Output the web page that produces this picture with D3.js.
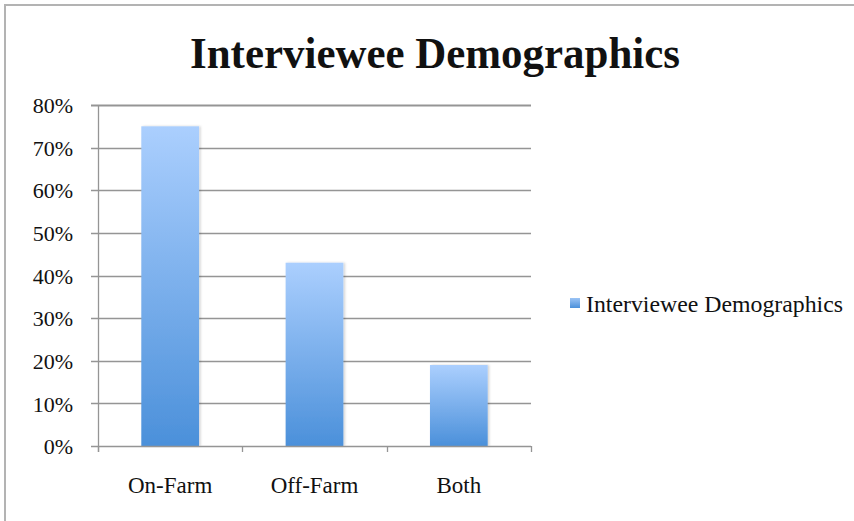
<!DOCTYPE html>
<html>
<head>
<meta charset="utf-8">
<script src="https://cdnjs.cloudflare.com/ajax/libs/d3/7.8.5/d3.min.js"></script>
<style>
  html, body { margin: 0; padding: 0; background: #fff; }
  svg { display: block; }
  text { font-family: "Liberation Serif", "Times New Roman", serif; fill: #111; }
</style>
</head>
<body>
<svg id="chart" width="854" height="521"></svg>
<script>
const categories = ["On-Farm", "Off-Farm", "Both"];
const values = [0.75, 0.43, 0.19];
const tickValues = [0, 0.1, 0.2, 0.3, 0.4, 0.5, 0.6, 0.7, 0.8];
const seriesName = "Interviewee Demographics";
const title = "Interviewee Demographics";

const svg = d3.select("#chart");

// frame
svg.append("path")
  .attr("d", "M5,521 V5 H854")
  .attr("fill", "none")
  .attr("stroke", "#b3b3b3")
  .attr("stroke-width", 2);

const plotL = 98, plotR = 531, plotT = 105, plotB = 446;

const x = d3.scaleBand().domain(categories).range([plotL, plotR])
  .paddingInner(0.6).paddingOuter(0.3);
const y = d3.scaleLinear().domain([0, 0.8]).range([plotB, plotT]);

const defs = svg.append("defs");
const grad = defs.append("linearGradient").attr("id", "barGrad")
  .attr("x1", 0).attr("y1", 0).attr("x2", 0).attr("y2", 1);
grad.append("stop").attr("offset", "0%").attr("stop-color", "#abcffe");
grad.append("stop").attr("offset", "100%").attr("stop-color", "#4b90da");

const shadow = defs.append("filter").attr("id", "shadow")
  .attr("x", "-20%").attr("y", "-5%").attr("width", "140%").attr("height", "110%");
shadow.append("feDropShadow").attr("dx", 1.5).attr("dy", 0).attr("stdDeviation", 1.2)
  .attr("flood-color", "#000").attr("flood-opacity", 0.18);

const legGrad = defs.append("linearGradient").attr("id", "legGrad")
  .attr("x1", 0).attr("y1", 0).attr("x2", 0).attr("y2", 1);
legGrad.append("stop").attr("offset", "0%").attr("stop-color", "#9cc4f5");
legGrad.append("stop").attr("offset", "100%").attr("stop-color", "#4b90da");

// gridlines
svg.append("g").selectAll("line")
  .data(tickValues.filter(d => d > 0))
  .join("line")
  .attr("x1", plotL - 7).attr("x2", plotR)
  .attr("y1", d => Math.round(y(d)) + 0.5).attr("y2", d => Math.round(y(d)) + 0.5)
  .attr("stroke", "#959595")
  .attr("stroke-width", d => d === 0.8 ? 2 : 1.3);

// y axis labels
const yAxis = d3.axisLeft(y).tickValues(tickValues).tickFormat(d3.format(".0%"))
  .tickSize(0).tickPadding(0);
const yg = svg.append("g").attr("transform", `translate(${plotL - 25},0)`).call(yAxis);
yg.select(".domain").remove();
yg.attr("font-family", null);
yg.selectAll("text")
  .style("font-family", "'Liberation Serif', 'Times New Roman', serif")
  .attr("font-size", 22).attr("fill", "#111").attr("dy", "0.35em");

// y axis line
svg.append("line")
  .attr("x1", plotL + 0.5).attr("x2", plotL + 0.5)
  .attr("y1", plotT).attr("y2", plotB + 6)
  .attr("stroke", "#959595").attr("stroke-width", 1.3);

// bars
svg.append("g").selectAll("rect")
  .data(values)
  .join("rect")
  .attr("x", (d, i) => x(categories[i]))
  .attr("width", x.bandwidth())
  .attr("y", d => y(d))
  .attr("height", d => y(0) - y(d))
  .attr("fill", "url(#barGrad)")
  .attr("filter", "url(#shadow)");

// x axis
svg.append("line")
  .attr("x1", plotL - 7).attr("x2", plotR)
  .attr("y1", plotB + 0.5).attr("y2", plotB + 0.5)
  .attr("stroke", "#959595").attr("stroke-width", 1.3);
const boundaries = categories.map(c => x(c) - x.step() * x.paddingInner() / 2);
boundaries.push(plotR);
svg.append("g").selectAll("line")
  .data(boundaries)
  .join("line")
  .attr("x1", d => Math.round(d) + 0.5).attr("x2", d => Math.round(d) + 0.5)
  .attr("y1", plotB).attr("y2", plotB + 6)
  .attr("stroke", "#959595").attr("stroke-width", 1.3);

svg.append("g").selectAll("text")
  .data(categories)
  .join("text")
  .attr("x", d => x(d) + x.bandwidth() / 2)
  .attr("y", 493)
  .attr("text-anchor", "middle")
  .attr("font-size", 23)
  .text(d => d);

// title
svg.append("text")
  .attr("x", 435).attr("y", 68)
  .attr("text-anchor", "middle")
  .attr("font-size", 45)
  .attr("font-weight", "bold")
  .attr("textLength", 490)
  .attr("lengthAdjust", "spacingAndGlyphs")
  .text(title);

// legend
svg.append("rect").attr("x", 570).attr("y", 298).attr("width", 10).attr("height", 10)
  .attr("fill", "url(#legGrad)");
svg.append("text").attr("x", 586).attr("y", 312)
  .attr("font-size", 23)
  .attr("textLength", 257)
  .attr("lengthAdjust", "spacingAndGlyphs")
  .text(seriesName);
</script>
</body>
</html>
